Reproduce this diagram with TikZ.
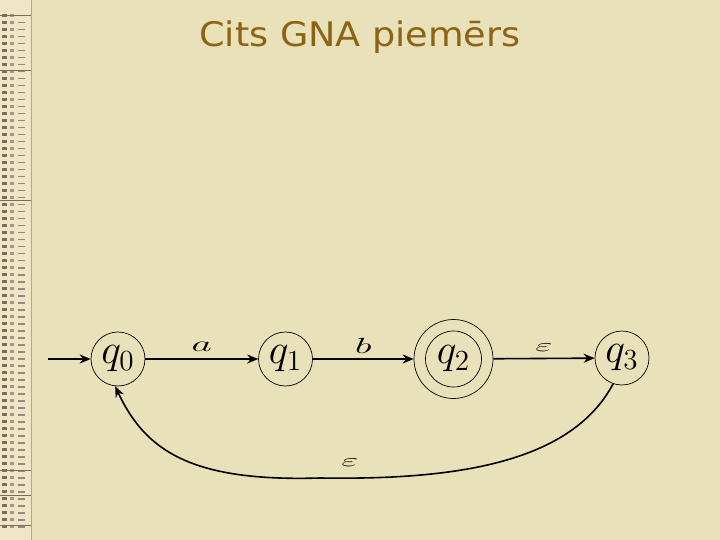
\documentclass[tikz,border=0pt]{standalone}
\usepackage{fontspec}
\newfontfamily\titlefont{DejaVu Sans}
\usetikzlibrary{arrows.meta}
\definecolor{bg}{RGB}{232,225,185}
\definecolor{strip}{RGB}{238,230,198}
\definecolor{titlec}{RGB}{140,100,20}
\definecolor{markc}{RGB}{120,110,90}
\tikzset{
  state/.style={circle,draw,line width=0.7bp,minimum size=54bp,inner sep=0pt,font=\fontsize{20.74}{24}\selectfont},
  outer/.style={circle,draw,line width=0.7bp,minimum size=79bp,inner sep=0pt},
  edge/.style={line width=1.6bp,-{Stealth[length=11bp,width=9bp]}},
  elabel/.style={font=\fontsize{20.74}{24}\selectfont,inner sep=0pt},
  eplabel/.style={font=\fontsize{17.28}{20}\selectfont,inner sep=0pt}
}
\newcommand{\wide}[3]{\scalebox{#1}[#2]{#3}}
\newcommand{\stlab}[1]{\scalebox{2.03}{$#1$}}
\begin{document}
\begin{tikzpicture}[x=1bp,y=-1bp]
\fill[bg] (0,0) rectangle (720,540);
\useasboundingbox (0,0) rectangle (720,540);
% decorative strip
\fill[strip] (0,0) rectangle (32,540);
\foreach \y in {14,21,...,525} {
  \fill[markc] (2,\y) rectangle (7,\y+3);
  \fill[markc!70] (10,\y) rectangle (14,\y+3);
  \fill[markc!80] (18,\y+1) rectangle (25,\y+2.5);
}
\foreach \y in {15,70,200,470,495,525} \draw[markc,line width=0.6bp] (0,\y) -- (32,\y);
\draw[markc!60,line width=0.6bp] (31,0) -- (31,540);
% title
\node[font=\titlefont\fontsize{34}{34}\selectfont,text=titlec,anchor=base,inner sep=0pt] (title) at (360,47) {\wide{1.08}{1}{Cits GNA piemērs}};
% states
\node[state] (q0) at (118,359) {\stlab{q_0}};
\node[state] (q1) at (285.5,359) {\stlab{q_1}};
\node[outer] (q2o) at (453.5,359) {};
\node[state,minimum size=56bp] (q2) at (453.5,359) {\stlab{q_2}};
\node[state] (q3) at (622,358) {\stlab{q_3}};
\coordinate (start) at (48,359);
% edges
\draw[edge] (start) -- (q0);
\draw[edge] (q0) -- node[elabel,midway,yshift=12bp] {\wide{1.91}{1.06}{$a$}} (q1);
\draw[edge] (q1) -- node[elabel,midway,yshift=13bp] {\wide{1.91}{1.06}{$b$}} (q2o);
\draw[edge] (q2o) -- node[eplabel,midway,yshift=11bp] {\wide{2.19}{1.04}{$\varepsilon$}} (q3);
\draw[edge] (q3.251) .. controls (570,465) and (450,480) .. (320,478)
  node[eplabel,xshift=30bp,yshift=15bp] (eps) {\wide{2.19}{1.04}{$\varepsilon$}}
  .. controls (190,482) and (145,450) .. (q0.264);
\end{tikzpicture}
\end{document}
